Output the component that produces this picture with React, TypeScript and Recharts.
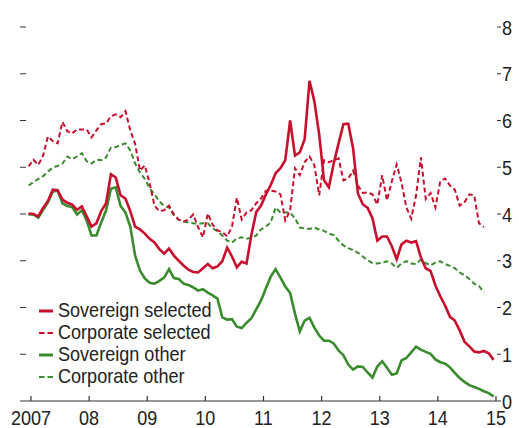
import React from 'react';
import { LineChart, Line, XAxis, YAxis, Legend } from 'recharts';

const RED = '#c8102e';
const GREEN = '#3a8a2e';
const AXIS = '#333333';
const TEXT = '#222222';
const FONT = "'Liberation Sans', Arial, sans-serif";
const SQUEEZE = 0.86;
const PLOT_LEFT = 20;

// Monthly observations, Dec 2006 .. Dec 2014 (index 0 = Dec 2006)
const SOV_SEL = [
  4.01, 4.0, 3.95, 4.13, 4.28, 4.52, 4.51, 4.31, 4.24, 4.2,
  4.09, 4.16, 3.95, 3.73, 3.8, 4.06, 4.23, 4.85, 4.78, 4.4,
  4.33, 4.06, 3.73, 3.67, 3.58, 3.47, 3.39, 3.25, 3.15, 3.26,
  3.11, 3.0, 2.9, 2.81, 2.76, 2.75, 2.84, 2.93, 2.84, 2.88,
  2.99, 3.28, 3.09, 2.86, 2.98, 2.94, 3.55, 4.04, 4.18, 4.42,
  4.62, 4.87, 4.98, 5.15, 6.0, 5.25, 5.32, 5.6, 6.85, 6.41,
  5.7, 4.72, 4.57, 5.08, 5.51, 5.92, 5.93, 5.4, 4.44, 4.21,
  4.13, 3.91, 3.43, 3.52, 3.52, 3.31, 3.03, 3.35, 3.43, 3.39,
  3.42, 3.07, 2.84, 2.78, 2.47, 2.24, 2.04, 1.8, 1.72, 1.51,
  1.27, 1.17, 1.06, 1.04, 1.07, 1.02, 0.88,
];

const CORP_SEL = [
  5.02, 5.16, 5.05, 5.25, 5.66, 5.56, 5.51, 5.97, 5.77, 5.72,
  5.81, 5.81, 5.81, 5.64, 5.79, 5.92, 5.94, 6.09, 6.13, 6.07,
  6.2, 5.79, 5.5, 4.93, 5.04, 4.65, 4.18, 4.06, 4.08, 4.18,
  3.99, 3.88, 3.84, 3.88, 3.99, 3.72, 3.5, 4.01, 3.77, 3.65,
  3.61, 3.52, 3.73, 4.35, 3.88, 4.03, 4.08, 4.23, 4.33, 4.5,
  4.5, 4.48, 4.42, 3.86, 4.08, 4.98, 4.83, 5.11, 5.23, 5.04,
  4.4, 5.15, 5.11, 5.15, 5.19, 4.72, 4.76, 4.93, 4.61, 4.45,
  4.46, 4.42, 4.2, 4.83, 4.29, 4.7, 5.06, 4.67, 4.14, 3.9,
  4.4, 5.21, 4.32, 4.45, 4.14, 4.7, 4.76, 4.61, 4.52, 4.18,
  4.25, 4.42, 4.4, 3.8, 3.72,
];

const SOV_OTH = [
  3.99, 3.99, 3.92, 4.09, 4.25, 4.48, 4.5, 4.23, 4.17, 4.15,
  3.99, 4.08, 3.86, 3.54, 3.54, 3.82, 4.08, 4.54, 4.57, 4.17,
  4.03, 3.73, 3.11, 2.79, 2.62, 2.53, 2.51, 2.57, 2.64, 2.82,
  2.63, 2.61, 2.51, 2.48, 2.43, 2.36, 2.39, 2.32, 2.26, 2.19,
  1.79, 1.74, 1.75, 1.59, 1.56, 1.67, 1.77, 1.96, 2.15, 2.41,
  2.66, 2.82, 2.64, 2.45, 2.31, 1.87, 1.49, 1.72, 1.78, 1.57,
  1.4, 1.29, 1.29, 1.23, 1.08, 0.98, 0.78, 0.67, 0.74, 0.73,
  0.61, 0.5, 0.74, 0.85, 0.71, 0.56, 0.59, 0.87, 0.92, 1.04,
  1.16, 1.1, 1.05, 1.01, 0.89, 0.83, 0.8, 0.72, 0.6, 0.49,
  0.41, 0.34, 0.3, 0.26, 0.21, 0.17, 0.1,
];

const CORP_OTH = [
  4.61, 4.68, 4.75, 4.81, 4.91, 4.99, 5.03, 5.08, 5.23, 5.17,
  5.23, 5.3, 5.13, 5.08, 5.16, 5.15, 5.21, 5.42, 5.43, 5.48,
  5.51, 5.36, 5.08, 4.89, 4.75, 4.55, 4.42, 4.27, 4.17, 4.14,
  3.97, 3.88, 3.84, 3.82, 3.8, 3.79, 3.8, 3.8, 3.69, 3.63,
  3.54, 3.43, 3.39, 3.48, 3.5, 3.47, 3.49, 3.54, 3.67, 3.73,
  3.82, 4.14, 4.03, 4.03, 4.03, 3.91, 3.71, 3.69, 3.68, 3.71,
  3.67, 3.64, 3.58, 3.55, 3.43, 3.33, 3.27, 3.23, 3.17, 3.09,
  3.01, 2.95, 2.94, 2.96, 2.99, 2.94, 2.85, 2.94, 2.99, 2.94,
  2.93, 3.02, 2.95, 2.9, 2.96, 2.99, 2.93, 2.89, 2.84, 2.75,
  2.69, 2.61, 2.51, 2.46, 2.32,
];

// x ticks in months since Jan 2007
const YEAR_TICKS = [0, 12, 24, 36, 48, 60, 72, 84, 96];
const YEAR_LABELS = ['2007', '08', '09', '10', '11', '12', '13', '14', '15'];
const Y_TICKS = [0, 1, 2, 3, 4, 5, 6, 7, 8];

const SERIES = [
  { key: 'corpOth', label: 'Corporate other', color: GREEN, dashed: true },
  { key: 'corpSel', label: 'Corporate selected', color: RED, dashed: true },
  { key: 'sovOth', label: 'Sovereign other', color: GREEN, dashed: false },
  { key: 'sovSel', label: 'Sovereign selected', color: RED, dashed: false },
];
const LEGEND_ORDER = ['sovSel', 'corpSel', 'sovOth', 'corpOth'];

const data = SOV_SEL.map((v, i) => ({
  m: i - 0.5,
  sovSel: v,
  corpSel: CORP_SEL[i] ?? null,
  sovOth: SOV_OTH[i] ?? null,
  corpOth: CORP_OTH[i] ?? null,
}));

const XTick = (props: any) => {
  const { x, y, payload } = props;
  const idx = YEAR_TICKS.indexOf(payload.value);
  return (
    <g>
      <line x1={x} x2={x} y1={y - 5} y2={y} stroke={AXIS} strokeWidth={1.2} />
      <text
        transform={`translate(${x},${y + 23.5}) scale(${SQUEEZE},1)`}
        textAnchor="middle"
        fill={TEXT}
        fontSize={21}
        fontFamily={FONT}
      >
        {YEAR_LABELS[idx]}
      </text>
    </g>
  );
};

// Right-hand labels; the chart also carries short unlabelled ticks on its left edge.
const YTick = (props: any) => {
  const { x, y, payload } = props;
  return (
    <g>
      {payload.value > 0 && (
        <line x1={PLOT_LEFT} x2={PLOT_LEFT + 6} y1={y} y2={y} stroke={AXIS} strokeWidth={1} />
      )}
      <text
        transform={`translate(${x},${y}) scale(${SQUEEZE},1)`}
        dy="0.36em"
        textAnchor="start"
        fill={TEXT}
        fontSize={21}
        fontFamily={FONT}
      >
        {payload.value}
      </text>
    </g>
  );
};

const LegendBox = () => (
  <div style={{ fontFamily: FONT, fontSize: 21, color: TEXT }}>
    {LEGEND_ORDER.map((k) => {
      const s = SERIES.find((q) => q.key === k)!;
      return (
        <div key={k} style={{ display: 'flex', alignItems: 'center', height: 22, lineHeight: '22px' }}>
          <svg width={19} height={22} style={{ display: 'block', flex: 'none' }}>
            <line
              x1={0}
              x2={14}
              y1={12}
              y2={12}
              stroke={s.color}
              strokeWidth={s.dashed ? 2 : 3}
              strokeDasharray={s.dashed ? '5.5 3' : undefined}
            />
          </svg>
          <span
            style={{
              whiteSpace: 'nowrap',
              display: 'inline-block',
              transform: `scaleX(${SQUEEZE})`,
              transformOrigin: 'left center',
            }}
          >
            {s.label}
          </span>
        </div>
      );
    })}
  </div>
);

export default function App() {
  return (
    <div style={{ position: 'absolute', left: 0, top: 0, width: 519, height: 428, background: '#fff' }}>
      <LineChart width={519} height={428} data={data} margin={{ top: 27, right: 0, bottom: 0, left: PLOT_LEFT }}>
        <XAxis
          dataKey="m"
          type="number"
          domain={[-2.27, 96.21]}
          allowDataOverflow
          ticks={YEAR_TICKS}
          interval={0}
          tick={<XTick />}
          tickLine={false}
          tickSize={0}
          tickMargin={0}
          height={27}
          axisLine={{ stroke: AXIS, strokeWidth: 1.2 }}
        />
        <YAxis
          yAxisId="r"
          orientation="right"
          domain={[0, 8]}
          ticks={Y_TICKS}
          interval={0}
          width={22}
          tickSize={4}
          tickMargin={1}
          axisLine={false}
          tickLine={{ stroke: AXIS, strokeWidth: 1 }}
          tick={<YTick />}
        />
        <Legend
          layout="vertical"
          align="center"
          verticalAlign="middle"
          wrapperStyle={{ left: 39, top: 299, width: 200 }}
          content={() => <LegendBox />}
        />
        {SERIES.map((s) => (
          <Line
            key={s.key}
            yAxisId="r"
            dataKey={s.key}
            type="linear"
            stroke={s.color}
            strokeWidth={s.dashed ? 2 : 2.6}
            strokeDasharray={s.dashed ? '5 3' : undefined}
            dot={false}
            activeDot={false}
            isAnimationActive={false}
            connectNulls={false}
          />
        ))}
      </LineChart>
    </div>
  );
}
